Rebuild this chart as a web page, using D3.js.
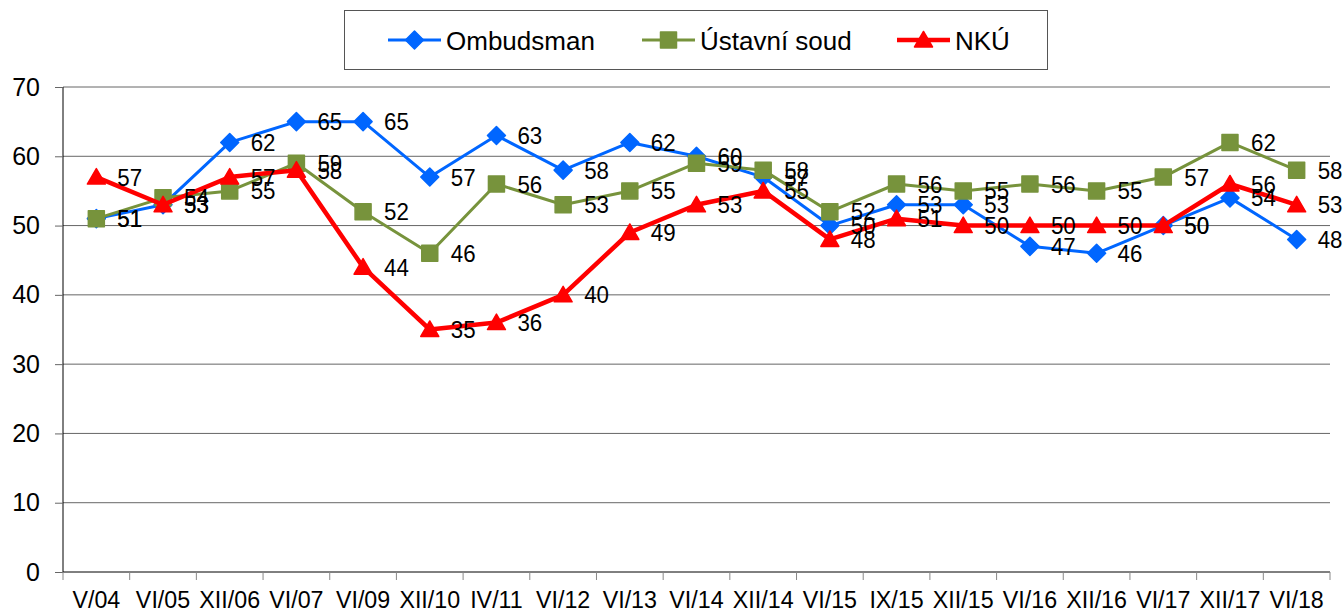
<!DOCTYPE html>
<html lang="cs">
<head>
<meta charset="utf-8">
<style>
  body { margin: 0; background: #fff; }
  svg { display: block; font-family: "Liberation Sans", Arial, sans-serif; }
</style>
</head>
<body>
<script src="https://cdn.jsdelivr.net/npm/d3@7"></script>
<script>

var categories = ["V/04", "VI/05", "XII/06", "VI/07", "VI/09", "XII/10", "IV/11", "VI/12", "VI/13", "VI/14",
                  "XII/14", "VI/15", "IX/15", "XII/15", "VI/16", "XII/16", "VI/17", "XII/17", "VI/18"];
var ombudsman = [51, 53, 62, 65, 65, 57, 63, 58, 62, 60, 57, 50, 53, 53, 47, 46, 50, 54, 48];
var ustavniSoud = [51, 54, 55, 59, 52, 46, 56, 53, 55, 59, 58, 52, 56, 55, 56, 55, 57, 62, 58];
var nku = [57, 53, 57, 58, 44, 35, 36, 40, 49, 53, 55, 48, 51, 50, 50, 50, 50, 56, 53];
var yTicks = [0, 10, 20, 30, 40, 50, 60, 70];

var series = [
  {name: "Ombudsman", values: ombudsman, color: "#0066ff", width: 3, marker: "diamond"},
  {name: "Ústavní soud", values: ustavniSoud, color: "#77933c", width: 3, marker: "square"},
  {name: "NKÚ", values: nku, color: "#ff0000", width: 4.5, marker: "triangle"}
];

var W = 1343, H = 611;
var plot = {left: 63, right: 1330, top: 87, bottom: 572};

var svg = d3.select("body").append("svg")
  .attr("width", W)
  .attr("height", H);

var x = d3.scaleBand()
  .domain(categories)
  .range([plot.left, plot.right])
  .padding(0);

var y = d3.scaleLinear()
  .domain([0, 70])
  .range([plot.bottom, plot.top]);

function cx(i) { return x(categories[i]) + x.bandwidth() / 2; }

function markerPath(type) {
  if (type == "diamond") return "M0,-9L9,0L0,9L-9,0Z";
  if (type == "square") return "M-8,-8H8V8H-8Z";
  return "M0,-8.5L9,7L-9,7Z";
}

// gridlines
svg.append("g")
  .selectAll("line")
  .data(yTicks.slice(1))
  .enter().append("line")
  .attr("x1", plot.left)
  .attr("x2", plot.right)
  .attr("y1", function(d) { return y(d); })
  .attr("y2", function(d) { return y(d); })
  .attr("stroke", "#666")
  .attr("stroke-width", 1);

// y axis
var yAxis = svg.append("g")
  .attr("transform", "translate(" + plot.left + ",0)")
  .call(d3.axisLeft(y).tickValues(yTicks).tickSize(8).tickPadding(15));
yAxis.select(".domain").attr("stroke", "#000").attr("d", "M0," + plot.top + "V" + plot.bottom);
yAxis.selectAll(".tick line").attr("stroke", "#666");
yAxis.selectAll("text")
  .attr("font-size", 25)
  .attr("font-family", "Liberation Sans, Arial, sans-serif")
  .attr("fill", "#000");

// x axis
svg.append("line")
  .attr("x1", plot.left).attr("x2", plot.right)
  .attr("y1", plot.bottom).attr("y2", plot.bottom)
  .attr("stroke", "#000");

svg.append("g")
  .selectAll("line")
  .data(categories.concat(["end"]))
  .enter().append("line")
  .attr("x1", function(d, i) { return plot.left + i * x.bandwidth(); })
  .attr("x2", function(d, i) { return plot.left + i * x.bandwidth(); })
  .attr("y1", plot.bottom)
  .attr("y2", plot.bottom + 8)
  .attr("stroke", "#888");

svg.append("g")
  .selectAll("text")
  .data(categories)
  .enter().append("text")
  .attr("transform", function(d, i) { return "translate(" + cx(i) + "," + (plot.bottom + 36) + ") scale(0.95,1)"; })
  .attr("text-anchor", "middle")
  .attr("font-size", 24.5)
  .text(function(d) { return d; });

// series
series.forEach(function(s) {
  var line = d3.line()
    .x(function(d, i) { return cx(i); })
    .y(function(d) { return y(d); });

  svg.append("path")
    .datum(s.values)
    .attr("d", line)
    .attr("fill", "none")
    .attr("stroke", s.color)
    .attr("stroke-width", s.width)
    .attr("stroke-linejoin", "round");

  svg.append("g")
    .selectAll("path")
    .data(s.values)
    .enter().append("path")
    .attr("d", markerPath(s.marker))
    .attr("transform", function(d, i) { return "translate(" + cx(i) + "," + y(d) + ")"; })
    .attr("fill", s.color)
    .attr("stroke", s.color)
    .attr("stroke-width", 1.5)
    .attr("stroke-linejoin", "round");
});

// data labels
series.forEach(function(s) {
  svg.append("g")
    .selectAll("text")
    .data(s.values)
    .enter().append("text")
    .attr("transform", function(d, i) { return "translate(" + (cx(i) + 21) + "," + (y(d) + 8.5) + ") scale(0.95,1)"; })
    .attr("font-size", 23.5)
    .attr("fill", "#000")
    .text(function(d) { return d; });
});

// legend
var legend = svg.append("g");
legend.append("rect")
  .attr("x", 344.5).attr("y", 10.5)
  .attr("width", 703).attr("height", 59)
  .attr("fill", "#fff")
  .attr("stroke", "#555");

var legendX = [388, 642, 897];
var item = legend.selectAll("g")
  .data(series)
  .enter().append("g")
  .attr("transform", function(d, i) { return "translate(" + legendX[i] + ",40)"; });

item.append("line")
  .attr("x1", 0).attr("x2", 53)
  .attr("stroke", function(d) { return d.color; })
  .attr("stroke-width", function(d) { return d.width; });

item.append("path")
  .attr("d", function(d) { return markerPath(d.marker); })
  .attr("transform", "translate(26.5,0)")
  .attr("fill", function(d) { return d.color; })
  .attr("stroke", function(d) { return d.color; })
  .attr("stroke-width", 1.5)
  .attr("stroke-linejoin", "round");

item.append("text")
  .attr("x", 58)
  .attr("y", 9.5)
  .attr("font-size", 26)
  .text(function(d) { return d.name; });

</script>
</body>
</html>
